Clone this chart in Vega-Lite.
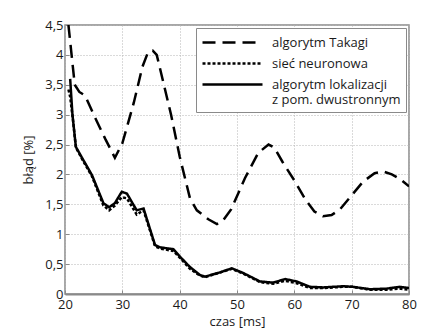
{
  "$schema": "https://vega.github.io/schema/vega-lite/v6.json",
  "width": 344,
  "height": 269,
  "autosize": {"type": "none"},
  "padding": {"left": 65, "top": 25, "right": 15, "bottom": 40},
  "background": "white",
  "config": {
    "font": "Open Sans",
    "view": {"stroke": "#8a8a8a", "strokeWidth": 1.5},
    "axis": {
      "labelFont": "Open Sans", "labelFontSize": 13, "labelColor": "#1a1a1a",
      "titleFont": "Open Sans", "titleFontSize": 13, "titleFontWeight": "normal", "titleColor": "#1a1a1a",
      "gridColor": "#b5b5b5", "gridDash": [1, 2], "gridWidth": 1, "gridOpacity": 1,
      "domainColor": "#8a8a8a", "domainWidth": 2,
      "tickColor": "#8a8a8a", "tickSize": -4, "labelPadding": 6
    },
    "legend": {
      "labelFont": "Open Sans", "labelFontSize": 13, "labelColor": "#1a1a1a"
    }
  },
  "data": {
    "values": [
      {"s": "algorytm Takagi", "t": 20.6, "v": 4.5},
      {"s": "algorytm Takagi", "t": 21.7, "v": 3.5},
      {"s": "algorytm Takagi", "t": 22.5, "v": 3.38},
      {"s": "algorytm Takagi", "t": 23.5, "v": 3.32},
      {"s": "algorytm Takagi", "t": 25, "v": 3.0},
      {"s": "algorytm Takagi", "t": 27, "v": 2.6},
      {"s": "algorytm Takagi", "t": 28.7, "v": 2.28},
      {"s": "algorytm Takagi", "t": 30, "v": 2.52},
      {"s": "algorytm Takagi", "t": 32, "v": 3.2},
      {"s": "algorytm Takagi", "t": 33.5, "v": 3.8},
      {"s": "algorytm Takagi", "t": 34.5, "v": 4.05},
      {"s": "algorytm Takagi", "t": 35.3, "v": 4.07},
      {"s": "algorytm Takagi", "t": 36, "v": 4.0},
      {"s": "algorytm Takagi", "t": 37, "v": 3.6},
      {"s": "algorytm Takagi", "t": 38.5, "v": 3.0},
      {"s": "algorytm Takagi", "t": 40, "v": 2.3},
      {"s": "algorytm Takagi", "t": 41.8, "v": 1.6},
      {"s": "algorytm Takagi", "t": 43, "v": 1.4},
      {"s": "algorytm Takagi", "t": 45, "v": 1.25},
      {"s": "algorytm Takagi", "t": 46.5, "v": 1.17},
      {"s": "algorytm Takagi", "t": 47.5, "v": 1.22},
      {"s": "algorytm Takagi", "t": 49, "v": 1.42},
      {"s": "algorytm Takagi", "t": 51.4, "v": 1.94},
      {"s": "algorytm Takagi", "t": 53.7, "v": 2.36},
      {"s": "algorytm Takagi", "t": 55.5, "v": 2.5},
      {"s": "algorytm Takagi", "t": 56.5, "v": 2.45},
      {"s": "algorytm Takagi", "t": 58, "v": 2.2},
      {"s": "algorytm Takagi", "t": 60, "v": 1.9},
      {"s": "algorytm Takagi", "t": 62, "v": 1.57},
      {"s": "algorytm Takagi", "t": 63.5, "v": 1.38},
      {"s": "algorytm Takagi", "t": 65, "v": 1.3},
      {"s": "algorytm Takagi", "t": 66.5, "v": 1.32},
      {"s": "algorytm Takagi", "t": 68, "v": 1.42},
      {"s": "algorytm Takagi", "t": 70, "v": 1.65},
      {"s": "algorytm Takagi", "t": 72, "v": 1.88},
      {"s": "algorytm Takagi", "t": 74, "v": 2.02},
      {"s": "algorytm Takagi", "t": 75.5, "v": 2.05},
      {"s": "algorytm Takagi", "t": 77, "v": 2.0},
      {"s": "algorytm Takagi", "t": 78.5, "v": 1.92},
      {"s": "algorytm Takagi", "t": 80, "v": 1.8},

      {"s": "sieć neuronowa", "t": 20.6, "v": 3.42},
      {"s": "sieć neuronowa", "t": 20.9, "v": 3.3},
      {"s": "sieć neuronowa", "t": 21.4, "v": 2.9},
      {"s": "sieć neuronowa", "t": 21.9, "v": 2.45},
      {"s": "sieć neuronowa", "t": 23.2, "v": 2.22},
      {"s": "sieć neuronowa", "t": 24.7, "v": 1.97},
      {"s": "sieć neuronowa", "t": 26.7, "v": 1.48},
      {"s": "sieć neuronowa", "t": 27.7, "v": 1.4},
      {"s": "sieć neuronowa", "t": 28.7, "v": 1.48},
      {"s": "sieć neuronowa", "t": 29.9, "v": 1.62},
      {"s": "sieć neuronowa", "t": 30.8, "v": 1.6},
      {"s": "sieć neuronowa", "t": 32.5, "v": 1.33},
      {"s": "sieć neuronowa", "t": 33.7, "v": 1.4},
      {"s": "sieć neuronowa", "t": 35.7, "v": 0.8},
      {"s": "sieć neuronowa", "t": 36.6, "v": 0.76},
      {"s": "sieć neuronowa", "t": 38.9, "v": 0.72},
      {"s": "sieć neuronowa", "t": 40.1, "v": 0.6},
      {"s": "sieć neuronowa", "t": 41.8, "v": 0.42},
      {"s": "sieć neuronowa", "t": 43.5, "v": 0.31},
      {"s": "sieć neuronowa", "t": 44.4, "v": 0.28},
      {"s": "sieć neuronowa", "t": 47, "v": 0.36},
      {"s": "sieć neuronowa", "t": 49.1, "v": 0.42},
      {"s": "sieć neuronowa", "t": 51.1, "v": 0.34},
      {"s": "sieć neuronowa", "t": 54, "v": 0.2},
      {"s": "sieć neuronowa", "t": 56.3, "v": 0.17},
      {"s": "sieć neuronowa", "t": 58.4, "v": 0.22},
      {"s": "sieć neuronowa", "t": 60.4, "v": 0.18},
      {"s": "sieć neuronowa", "t": 62.7, "v": 0.1},
      {"s": "sieć neuronowa", "t": 65.1, "v": 0.1},
      {"s": "sieć neuronowa", "t": 68.5, "v": 0.12},
      {"s": "sieć neuronowa", "t": 70.2, "v": 0.12},
      {"s": "sieć neuronowa", "t": 73.2, "v": 0.07},
      {"s": "sieć neuronowa", "t": 76.1, "v": 0.07},
      {"s": "sieć neuronowa", "t": 78.4, "v": 0.09},
      {"s": "sieć neuronowa", "t": 80, "v": 0.07},

      {"s": "algorytm lokalizacji z pom. dwustronnym", "t": 20.9, "v": 3.6},
      {"s": "algorytm lokalizacji z pom. dwustronnym", "t": 21.3, "v": 3.0},
      {"s": "algorytm lokalizacji z pom. dwustronnym", "t": 21.9, "v": 2.46},
      {"s": "algorytm lokalizacji z pom. dwustronnym", "t": 23.2, "v": 2.24},
      {"s": "algorytm lokalizacji z pom. dwustronnym", "t": 24.7, "v": 1.99},
      {"s": "algorytm lokalizacji z pom. dwustronnym", "t": 26.7, "v": 1.52},
      {"s": "algorytm lokalizacji z pom. dwustronnym", "t": 27.7, "v": 1.45},
      {"s": "algorytm lokalizacji z pom. dwustronnym", "t": 28.7, "v": 1.52},
      {"s": "algorytm lokalizacji z pom. dwustronnym", "t": 29.9, "v": 1.71},
      {"s": "algorytm lokalizacji z pom. dwustronnym", "t": 30.8, "v": 1.68},
      {"s": "algorytm lokalizacji z pom. dwustronnym", "t": 32.5, "v": 1.4},
      {"s": "algorytm lokalizacji z pom. dwustronnym", "t": 33.7, "v": 1.43},
      {"s": "algorytm lokalizacji z pom. dwustronnym", "t": 35.7, "v": 0.82},
      {"s": "algorytm lokalizacji z pom. dwustronnym", "t": 36.6, "v": 0.78},
      {"s": "algorytm lokalizacji z pom. dwustronnym", "t": 38.9, "v": 0.75},
      {"s": "algorytm lokalizacji z pom. dwustronnym", "t": 40.1, "v": 0.62},
      {"s": "algorytm lokalizacji z pom. dwustronnym", "t": 41.8, "v": 0.45},
      {"s": "algorytm lokalizacji z pom. dwustronnym", "t": 43.5, "v": 0.32},
      {"s": "algorytm lokalizacji z pom. dwustronnym", "t": 44.4, "v": 0.29},
      {"s": "algorytm lokalizacji z pom. dwustronnym", "t": 47, "v": 0.36},
      {"s": "algorytm lokalizacji z pom. dwustronnym", "t": 49.1, "v": 0.43},
      {"s": "algorytm lokalizacji z pom. dwustronnym", "t": 51.1, "v": 0.35},
      {"s": "algorytm lokalizacji z pom. dwustronnym", "t": 54, "v": 0.21},
      {"s": "algorytm lokalizacji z pom. dwustronnym", "t": 56.3, "v": 0.19},
      {"s": "algorytm lokalizacji z pom. dwustronnym", "t": 58.4, "v": 0.25},
      {"s": "algorytm lokalizacji z pom. dwustronnym", "t": 60.4, "v": 0.21},
      {"s": "algorytm lokalizacji z pom. dwustronnym", "t": 62.7, "v": 0.12},
      {"s": "algorytm lokalizacji z pom. dwustronnym", "t": 65.1, "v": 0.11},
      {"s": "algorytm lokalizacji z pom. dwustronnym", "t": 68.5, "v": 0.13},
      {"s": "algorytm lokalizacji z pom. dwustronnym", "t": 70.2, "v": 0.12},
      {"s": "algorytm lokalizacji z pom. dwustronnym", "t": 73.2, "v": 0.08},
      {"s": "algorytm lokalizacji z pom. dwustronnym", "t": 76.1, "v": 0.09},
      {"s": "algorytm lokalizacji z pom. dwustronnym", "t": 78.4, "v": 0.12},
      {"s": "algorytm lokalizacji z pom. dwustronnym", "t": 80, "v": 0.1}
    ]
  },
  "mark": {"type": "line", "color": "black", "strokeWidth": 2.5, "clip": true},
  "encoding": {
    "x": {
      "field": "t", "type": "quantitative",
      "scale": {"domain": [20, 80], "nice": false},
      "axis": {"values": [20, 30, 40, 50, 60, 70, 80], "title": "czas [ms]", "titlePadding": 4, "labelPadding": 8, "labelFlush": false}
    },
    "y": {
      "field": "v", "type": "quantitative",
      "scale": {"domain": [0, 4.5], "nice": false},
      "axis": {
        "values": [0, 0.5, 1, 1.5, 2, 2.5, 3, 3.5, 4, 4.5],
        "format": "~g",
        "labelExpr": "replace(datum.label, '.', ',')",
        "title": "błąd [%]", "titlePadding": 9, "labelFlush": false, "domain": false
      }
    },
    "strokeDash": {
      "field": "s", "type": "nominal",
      "scale": {
        "domain": ["algorytm Takagi", "sieć neuronowa", "algorytm lokalizacji z pom. dwustronnym"],
        "range": [[13, 7], [3, 2], [1, 0]]
      },
      "legend": {
        "title": null,
        "orient": "top-right",
        "offset": 3,
        "symbolType": "stroke",
        "symbolSize": 3600,
        "clipHeight": 19,
        "symbolStrokeWidth": 2.5,
        "symbolStrokeColor": "black",
        "labelExpr": "datum.label == 'algorytm lokalizacji z pom. dwustronnym' ? ['algorytm lokalizacji', 'z pom. dwustronnym'] : datum.label",
        "labelLimit": 300,
        "labelOffset": 8,
        "rowPadding": 2,
        "strokeColor": "#8a8a8a",
        "fillColor": "white",
        "padding": 5,
        "cornerRadius": 0
      }
    }
  }
}
